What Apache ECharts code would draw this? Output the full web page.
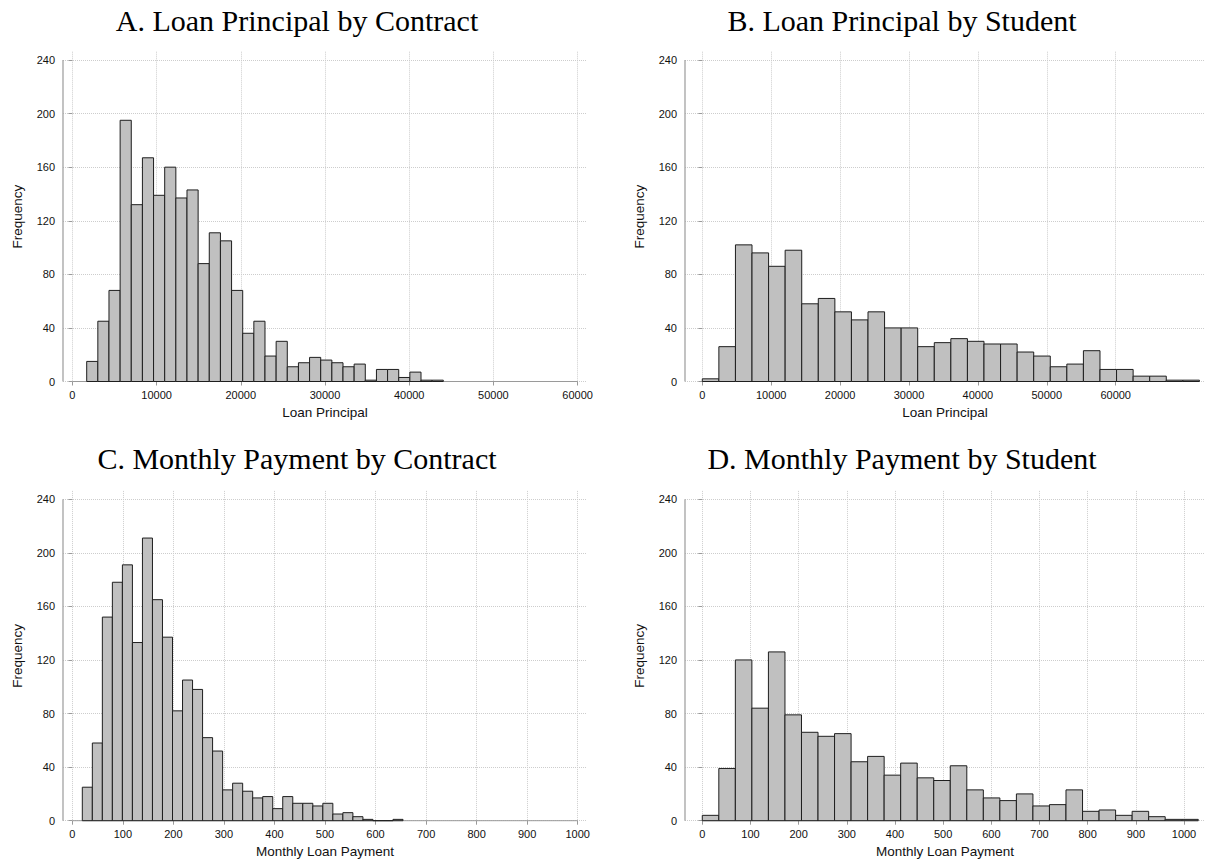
<!DOCTYPE html>
<html>
<head>
<meta charset="utf-8">
<script src="https://cdn.jsdelivr.net/npm/echarts@6/dist/echarts.min.js"></script>
<style>
html,body{margin:0;padding:0;background:#fff;}
#chart{width:1208px;height:865px;}
</style>
</head>
<body>
<div id="chart"></div>
<script>
// ---------- data ----------
const panelTitles = ['A. Loan Principal by Contract', 'B. Loan Principal by Student',
                     'C. Monthly Payment by Contract', 'D. Monthly Payment by Student'];
const xAxisTitles = ['Loan Principal', 'Loan Principal', 'Monthly Loan Payment', 'Monthly Loan Payment'];
const yAxisTitle = 'Frequency';

const yTicks = [0, 40, 80, 120, 160, 200, 240];
const principalTicks = [0, 10000, 20000, 30000, 40000, 50000, 60000];
const paymentTicks = [0, 100, 200, 300, 400, 500, 600, 700, 800, 900, 1000];

// A. Loan principal by contract (32 bins)
const aBinStart = 1698, aBinWidth = 1323.5;
const aFreq = [15, 45, 68, 195, 132, 167, 139, 160, 137, 143, 88, 111, 105, 68, 36, 45,
               19, 30, 11, 14, 18, 16, 14, 11, 13, 1, 9, 9, 3, 7, 1, 1];
// B. Loan principal by student (30 bins)
const bBinStart = 0, bBinWidth = 2405;
const bFreq = [2, 26, 102, 96, 86, 98, 58, 62, 52, 46, 52, 40, 40, 26, 29,
               32, 30, 28, 28, 22, 19, 11, 13, 23, 9, 9, 4, 4, 1, 1];
// C. Monthly payment by contract (32 bins)
const cBinStart = 19.8, cBinWidth = 19.83;
const cFreq = [25, 58, 152, 178, 191, 133, 211, 165, 137, 82, 105, 98, 62, 52, 23, 28,
               22, 17, 18, 9, 18, 13, 13, 11, 13, 5, 6, 3, 1, 0, 0, 1];
// D. Monthly payment by student (30 bins)
const dBinStart = 0, dBinWidth = 34.32;
const dFreq = [4, 39, 120, 84, 126, 79, 66, 63, 65, 44, 48, 34, 43, 32, 30,
               41, 23, 17, 15, 20, 11, 12, 23, 7, 8, 4, 7, 3, 1, 1];

// ---------- layout ----------
const panels = [
  {start: aBinStart, width: aBinWidth, freq: aFreq, ticks: principalTicks,
   grid: {left: 63, top: 51.7, width: 524, height: 329.8}, xMin: -1116, xMax: 61116},
  {start: bBinStart, width: bBinWidth, freq: bFreq, ticks: principalTicks,
   grid: {left: 685, top: 51.7, width: 520, height: 329.8}, xMin: -2511, xMax: 72961},
  {start: cBinStart, width: cBinWidth, freq: cFreq, ticks: paymentTicks,
   grid: {left: 63, top: 490.9, width: 524, height: 329.8}, xMin: -18.4, xMax: 1018.4},
  {start: dBinStart, width: dBinWidth, freq: dFreq, ticks: paymentTicks,
   grid: {left: 685, top: 490.9, width: 520, height: 329.8}, xMin: -35.9, xMax: 1043.6}
];
const yMax = 246.2;
const titleCenters = [[297, 20], [902, 20], [297, 458], [902, 458]];

const AXIS_GRAY = '#9a9a9a';
const TEXT = '#111';
const sans = 'Liberation Sans, Arial, sans-serif';
const plain = v => String(v);

function renderBar(params, api) {
  const x0 = api.value(0), x1 = api.value(1), f = api.value(2);
  const p0 = api.coord([x0, 0]);
  const p1 = api.coord([x1, f]);
  return {
    type: 'rect',
    shape: {x: p0[0], y: p1[1], width: p1[0] - p0[0], height: p0[1] - p1[1]},
    style: {fill: '#c0c0c0', stroke: '#1e1e1e', lineWidth: 1}
  };
}

const grids = [], xAxes = [], yAxes = [], series = [];
panels.forEach((p, i) => {
  grids.push(Object.assign({outerBoundsMode: 'none', containLabel: false}, p.grid));
  xAxes.push({
    type: 'value', gridIndex: i, min: p.xMin, max: p.xMax,
    name: xAxisTitles[i], nameLocation: 'middle', nameGap: 24,
    nameTextStyle: {fontFamily: sans, fontSize: 13.5, color: TEXT},
    axisLine: {show: false},
    axisTick: {show: true, length: 4, lineStyle: {color: AXIS_GRAY}, customValues: p.ticks},
    axisLabel: {fontFamily: sans, fontSize: 11, color: TEXT, margin: 8,
                customValues: p.ticks, formatter: plain},
    splitLine: {show: true, lineStyle: {color: '#cdcdcd', type: 'dotted', width: 1}}
  });
  yAxes.push({
    type: 'value', gridIndex: i, min: 0, max: yMax,
    name: yAxisTitle, nameLocation: 'middle', nameGap: 39, nameRotate: 90,
    nameTextStyle: {fontFamily: sans, fontSize: 13.5, color: TEXT},
    axisLine: {show: false},
    axisTick: {show: true, length: 4, lineStyle: {color: AXIS_GRAY}, customValues: yTicks},
    axisLabel: {fontFamily: sans, fontSize: 11, color: TEXT, margin: 8,
                customValues: yTicks, formatter: plain},
    splitLine: {show: true, lineStyle: {color: '#cdcdcd', type: 'dotted', width: 1}}
  });
  const bins = p.freq.map((f, k) => [p.start + k * p.width, p.start + (k + 1) * p.width, f]);
  const dataEnd = p.start + p.freq.length * p.width;
  const axisEnd = Math.max(p.ticks[p.ticks.length - 1], dataEnd);
  // x axis line (spans the axis scale range)
  series.push({
    type: 'line', xAxisIndex: i, yAxisIndex: i, data: [[0, 0], [axisEnd, 0]],
    symbol: 'none', silent: true, clip: false, z: 1,
    lineStyle: {color: AXIS_GRAY, width: 1}
  });
  // y axis line (0..240)
  series.push({
    type: 'line', xAxisIndex: i, yAxisIndex: i,
    data: [[p.xMin, 0], [p.xMin, yTicks[yTicks.length - 1]]],
    symbol: 'none', silent: true, clip: false, z: 4,
    lineStyle: {color: AXIS_GRAY, width: 1.2}
  });
  series.push({
    type: 'custom', xAxisIndex: i, yAxisIndex: i, data: bins,
    encode: {x: [0, 1], y: 2}, renderItem: renderBar, z: 3, silent: true
  });
});

const chart = echarts.init(document.getElementById('chart'), null, {renderer: 'svg'});
chart.setOption({
  backgroundColor: '#fff',
  animation: false,
  grid: grids,
  xAxis: xAxes,
  yAxis: yAxes,
  series: series,
  graphic: panelTitles.map((t, i) => ({
    type: 'text', x: titleCenters[i][0], y: titleCenters[i][1],
    style: {text: t, align: 'center', verticalAlign: 'middle',
            font: '30px "Liberation Serif", "Times New Roman", serif', fill: '#000'}
  }))
});
</script>
</body>
</html>
